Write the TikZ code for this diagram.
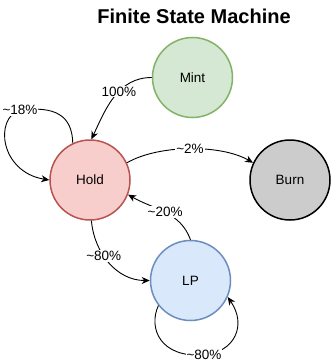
\documentclass[tikz,border=0pt]{standalone}
\usepackage{fontspec}
\setmainfont{Liberation Sans}
\usetikzlibrary{arrows.meta}
\definecolor{mintfill}{HTML}{D5E8D4}\definecolor{mintline}{HTML}{82B366}
\definecolor{holdfill}{HTML}{F8CECC}\definecolor{holdline}{HTML}{B85450}
\definecolor{lpfill}{HTML}{DAE8FC}\definecolor{lpline}{HTML}{6C8EBF}
\definecolor{burnfill}{HTML}{CCCCCC}
\begin{document}
\begin{tikzpicture}[x=1pt,y=1pt,
  state/.style={circle,minimum size=80pt,inner sep=0pt,line width=1.5pt,
    font=\fontsize{13.5}{16}\selectfont},
  edge/.style={line width=0.9pt,-{Stealth[length=8pt,width=7pt,inset=2.5pt]}},
  lab/.style={fill=white,inner sep=1pt,font=\fontsize{13.5}{16}\selectfont}]
\useasboundingbox (0,0) rectangle (332,-364);

% title
\node[font=\fontsize{20}{24}\selectfont\bfseries] (title) at (194,-16) {Finite State Machine};

% states
\node[state,draw=mintline,fill=mintfill] (mint) at (192.5,-77.5) {Mint};
\node[state,draw=holdline,fill=holdfill] (hold) at (90,-180) {Hold};
\node[state,draw=black,fill=burnfill] (burn) at (290,-180) {Burn};
\node[state,draw=lpline,fill=lpfill] (lp) at (190.5,-280.5) {LP};

% label points on the self loops
\coordinate (l18) at (20,-110);
\coordinate (l80b) at (204,-355);

% transitions
\draw[edge] (mint.180) to[out=180,in=65] node[lab,pos=0.42]{100\%} (hold.88);
\draw[edge] (hold.25) to[out=30,in=150,looseness=0.75] node[lab]{\textasciitilde2\%} (burn.155);
\draw[edge] (lp.90) to[out=110,in=-30] node[lab]{\textasciitilde20\%} (hold.-21);
\draw[edge] (hold.-88) to[out=-85,in=180] node[lab,pos=0.4]{\textasciitilde80\%} (lp.180);
\draw[edge] (hold.115) .. controls (72,-115) and (55,-106) .. (l18)
  .. controls (-6,-118) and (0,-172) .. (hold.west);
\draw[edge] (lp.218) .. controls (148,-328) and (160,-358) .. (l80b)
  .. controls (235,-352) and (247,-325) .. (lp.-24);
\node[lab] (t18) at (l18) {\textasciitilde18\%};
\node[lab] (t80) at (l80b) {\textasciitilde80\%};
\end{tikzpicture}
\end{document}
